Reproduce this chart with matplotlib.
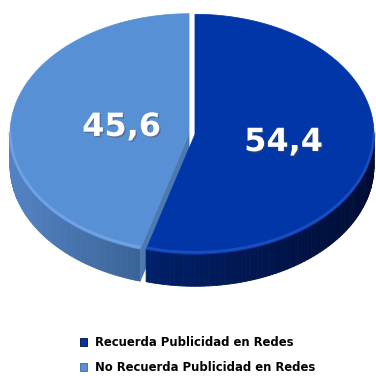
import numpy as np
import matplotlib
matplotlib.use("Agg")
import matplotlib.pyplot as plt
from matplotlib.collections import PolyCollection
from matplotlib.patches import Polygon, Patch
from matplotlib.colors import to_rgb
import matplotlib.patheffects as pe

# data
values = [54.4, 45.6]
value_text = ["54,4", "45,6"]
labels = ["Recuerda Publicidad en Redes", "No Recuerda Publicidad en Redes"]

# styling per slice
top_colors = ["#0036a8", "#5890d6"]
rim_colors = ["#2456c8", "#78aaea"]
side_left = ["#00206a", "#5383c3"]
side_right = ["#000c34", "#3a6498"]
cut_color = ["#001a55", "#4c79b0"]
label_radius = [0.50, 0.38]

# layout of the tilted pie, in pixel units
CX, CY = 192.0, 134.0
RX, RY = 179.0, 120.0
DEPTH = 32.0
EXPLODE = 3.0


def pt(t, ox, oy, dz=0.0):
    r = np.radians(t)
    return CX + ox + RX * np.cos(r), CY + oy - RY * np.sin(r) + dz


def mix(c1, c2, f):
    a, b = np.array(to_rgb(c1)), np.array(to_rgb(c2))
    return tuple(a + (b - a) * f)


fig = plt.figure(figsize=(3.76, 3.76), dpi=100)
ax = fig.add_axes([0, 0, 1, 1])
ax.set_xlim(0, 376)
ax.set_ylim(376, 0)
ax.axis("off")

# slice angles, clockwise from 12 o'clock
start = 90.0
slices = []
for i, v in enumerate(values):
    t1 = start
    t2 = start - v * 3.6
    start = t2
    mid = (t1 + t2) / 2
    ox = EXPLODE * np.cos(np.radians(mid))
    oy = -EXPLODE * (RY / RX) * np.sin(np.radians(mid))
    slices.append((t1, t2, mid, ox, oy))

# draw the slice further back (light one) first
for i in [1, 0]:
    t1, t2, mid, ox, oy = slices[i]
    lo, hi = min(t1, t2), max(t1, t2)
    c = (CX + ox, CY + oy)

    # outer wall, only the part facing the viewer
    a0, a1 = max(lo, -180.0), min(hi, 0.0)
    if a1 > a0:
        ts = np.linspace(a0, a1, 80)
        xs_all = [pt(t, ox, oy)[0] for t in ts]
        xmin, xmax = min(xs_all), max(xs_all)
        quads, cols = [], []
        for k in range(len(ts) - 1):
            p1 = pt(ts[k], ox, oy)
            p2 = pt(ts[k + 1], ox, oy)
            quads.append([p1, p2, (p2[0], p2[1] + DEPTH), (p1[0], p1[1] + DEPTH)])
            f = ((p1[0] + p2[0]) / 2 - xmin) / max(xmax - xmin, 1)
            cols.append(mix(side_left[i], side_right[i], f))
        ax.add_collection(PolyCollection(quads, facecolors=cols, edgecolors=cols,
                                         linewidths=0.6))

    # radial cut face of the light slice, seen through the front split
    if i == 1:
        p = pt(t1, ox, oy)
        ax.add_patch(Polygon([c, p, (p[0], p[1] + DEPTH), (c[0], c[1] + DEPTH)],
                             closed=True, facecolor=cut_color[i],
                             edgecolor=cut_color[i], linewidth=0.5))

    # top face
    ts = np.linspace(t1, t2, 200)
    poly = [c] + [pt(t, ox, oy) for t in ts]
    ax.add_patch(Polygon(poly, closed=True, facecolor=top_colors[i],
                         edgecolor=top_colors[i], linewidth=0.5))

    # soft bevel along the front rim
    if a1 > a0:
        ts = np.linspace(a0, a1, 80)
        rim = np.array([pt(t, ox, oy, -2.0) for t in ts])
        ax.plot(rim[:, 0], rim[:, 1], color=rim_colors[i], lw=2.0, alpha=0.7,
                solid_capstyle="butt")

    # value label
    r = np.radians(mid)
    lx = CX + ox + label_radius[i] * RX * np.cos(r)
    ly = CY + oy - label_radius[i] * RY * np.sin(r)
    ax.text(lx, ly, value_text[i], color="white", fontsize=23, fontweight="bold",
            ha="center", va="center", family="DejaVu Sans",
            path_effects=[pe.withSimplePatchShadow(offset=(1, -1), alpha=0.45)])

handles = [Patch(facecolor=top_colors[k], edgecolor=side_right[k], linewidth=0.6)
           for k in range(len(labels))]
ax.legend(handles, labels, loc="upper left", bbox_to_anchor=(80 / 376, 1 - 336 / 376),
          frameon=False, borderpad=0, borderaxespad=0, handlelength=0.62,
          handleheight=0.62, handletextpad=0.65, labelspacing=1.05,
          prop={"family": "DejaVu Sans", "weight": "bold", "size": 8.4})

fig.savefig("out.png", dpi=100, facecolor="white")
